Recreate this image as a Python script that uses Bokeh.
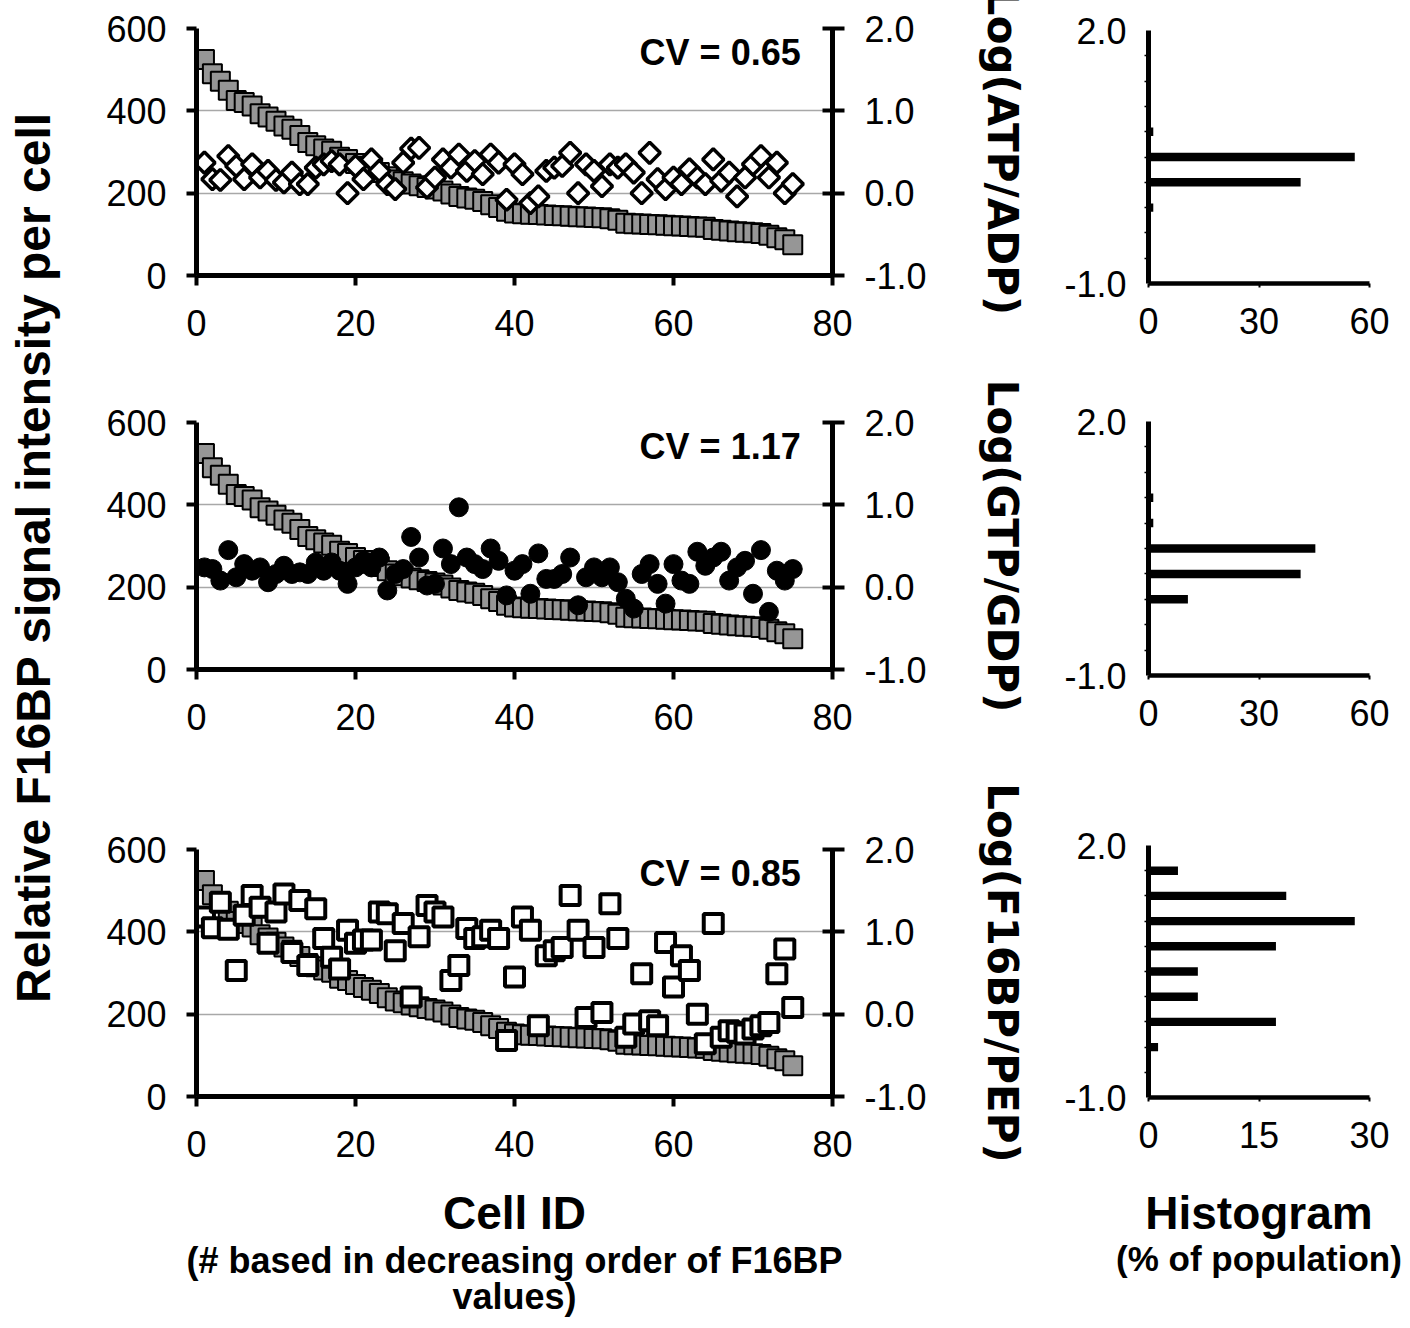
import numpy as np
from bokeh.plotting import figure
from bokeh.models import Range1d, LinearAxis, FixedTicker, PrintfTickFormatter, Label
from bokeh.layouts import row, column
from bokeh.embed import file_html
from bokeh.resources import INLINE

# ---------------- data ----------------
cell_id = list(range(1, 76))

f16bp = [525, 490, 472, 450, 425, 420, 412, 393, 385, 375,
         363, 355, 340, 323, 315, 307, 302, 287, 282, 272,
         265, 258, 250, 240, 232, 228, 222, 218, 214, 210,
         205, 198, 192, 188, 185, 180, 172, 165, 156, 152,
         150, 149, 148, 147, 146, 145, 144, 143, 142, 141,
         140, 138, 134, 127, 126, 125, 124, 123, 122, 121,
         120, 119, 118, 117, 112, 110, 108, 106, 105, 104,
         102, 98, 92, 87, 75]

log_atp_adp = [0.37, 0.17, 0.16, 0.45, 0.33, 0.17, 0.35, 0.19, 0.27, 0.16,
               0.13, 0.25, 0.11, 0.11, 0.31, 0.35, 0.39, 0.35, 0.0, 0.33,
               0.17, 0.41, 0.27, 0.11, 0.05, 0.37, 0.54, 0.55, 0.07, 0.19,
               0.41, 0.31, 0.47, 0.27, 0.39, 0.23, 0.47, 0.37, -0.08,
               0.35, 0.23, -0.12, -0.04, 0.27, 0.31, 0.33, 0.49, 0.0, 0.35,
               0.27, 0.085, 0.35, 0.31, 0.35, 0.25, 0.0, 0.49, 0.17, 0.05,
               0.19, 0.11, 0.29, 0.19, 0.11, 0.41, 0.15, 0.25, -0.04, 0.19,
               0.35, 0.45, 0.19, 0.37, 0.0, 0.11]

log_gtp_gdp = [0.24, 0.22, 0.08, 0.45, 0.12, 0.28, 0.20, 0.24, 0.06, 0.16,
               0.26, 0.16, 0.18, 0.16, 0.30, 0.20, 0.30, 0.20, 0.04, 0.24,
               0.32, 0.24, 0.36, -0.04, 0.16, 0.22, 0.61, 0.36, 0.02, 0.04,
               0.47, 0.28, 0.97, 0.36, 0.28, 0.22, 0.47, 0.32, -0.10, 0.20,
               0.28, -0.08, 0.41, 0.10, 0.10, 0.16, 0.36, -0.22, 0.12, 0.24,
               0.12, 0.24, 0.06, -0.14, -0.26, 0.16, 0.28, 0.04, -0.20, 0.28,
               0.08, 0.04, 0.43, 0.26, 0.36, 0.43, 0.08, 0.24, 0.32, -0.08,
               0.45, -0.30, 0.20, 0.08, 0.22]

log_f16bp_pep = [1.18, 1.05, 1.36, 1.03, 0.53, 1.20, 1.44, 1.30, 0.86, 1.24,
                 1.46, 0.75, 1.38, 0.59, 1.28, 0.92, 0.69, 0.55, 1.02, 0.86,
                 0.90, 0.90, 1.24, 1.22, 0.77, 1.10, 0.21, 0.94, 1.32, 1.24,
                 1.18, 0.41, 0.59, 1.04, 0.92, 0.94, 1.02, 0.92, -0.32, 0.45,
                 1.18, 1.02, -0.14, 0.71, 0.77, 0.81, 1.44, 1.02, -0.04, 0.81,
                 0.02, 1.34, 0.92, -0.28, -0.12, 0.49, -0.08, -0.14, 0.87, 0.33,
                 0.71, 0.53, 0.0, -0.36, 1.10, -0.28, -0.20, -0.22, -0.24, -0.18,
                 -0.14, -0.10, 0.49, 0.79, 0.08]

cv_labels = ["CV = 0.65", "CV = 1.17", "CV = 0.85"]
ratio_labels = ["Log(ATP/ADP)", "Log(GTP/GDP)", "Log(F16BP/PEP)"]

hist_atp_bins = [0.8, 0.5, 0.2, -0.1]
hist_atp_pct = [1.3, 56.0, 41.3, 1.3]
hist_gtp_bins = [1.1, 0.8, 0.5, 0.2, -0.1]
hist_gtp_pct = [1.3, 1.3, 45.3, 41.3, 10.7]
hist_pep_bins = [1.7, 1.4, 1.1, 0.8, 0.5, 0.2, -0.1, -0.4]
hist_pep_pct = [4.0, 18.7, 28.0, 17.3, 6.7, 6.7, 17.3, 1.3]

left_ticks = [0, 200, 400, 600]
right_ticks = [-1.0, 0.0, 1.0, 2.0]
x_ticks = [0, 20, 40, 60, 80]
hist_minor = [-0.7, -0.4, -0.1, 0.2, 0.5, 0.8, 1.1, 1.4, 1.7]

FONT = "Liberation Sans"
LOGFONT = "DejaVu Sans"
TICK_SIZE = "36px"


def style_axis(ax, line_w=5, tick_out=10, tick_in=0, standoff=20):
    ax.axis_line_width = line_w
    ax.axis_line_color = "black"
    ax.major_tick_line_width = 4
    ax.major_tick_line_color = "black"
    ax.major_tick_out = tick_out
    ax.major_tick_in = tick_in
    ax.minor_tick_out = 0
    ax.minor_tick_in = 0
    ax.major_label_text_font = FONT
    ax.major_label_text_font_size = TICK_SIZE
    ax.major_label_text_color = "black"
    ax.major_label_standoff = standoff


def text_axis(p, text, size, standoff):
    """An axis below the frame that only carries a bold title text."""
    ax = LinearAxis(ticker=FixedTicker(ticks=[]), axis_label=text)
    ax.axis_line_color = None
    ax.major_tick_line_color = None
    ax.minor_tick_line_color = None
    ax.major_tick_out = 0
    ax.major_tick_in = 0
    ax.minor_tick_out = 0
    ax.minor_tick_in = 0
    ax.major_label_text_font_size = "0px"
    ax.major_label_standoff = 0
    ax.axis_label_text_font = FONT
    ax.axis_label_text_font_size = size
    ax.axis_label_text_font_style = "bold"
    ax.axis_label_text_color = "black"
    ax.axis_label_standoff = standoff
    p.add_layout(ax, "below")


def make_scatter(values, kind, label, cv, top, bottom):
    p = figure(width=970, height=top + 247 + bottom,
               x_range=Range1d(0, 80), y_range=Range1d(0, 600),
               output_backend="svg", toolbar_location=None,
               min_border_left=126, min_border_right=208,
               min_border_top=top, min_border_bottom=bottom)
    p.extra_y_ranges = {"r": Range1d(-1, 2)}
    p.outline_line_color = None
    p.background_fill_color = "white"
    p.xgrid.visible = False
    p.ygrid.ticker = FixedTicker(ticks=[200, 400, 600])
    p.ygrid.grid_line_color = "#a8a8a8"
    p.ygrid.grid_line_width = 1.6

    p.xaxis.ticker = FixedTicker(ticks=x_ticks)
    p.yaxis.ticker = FixedTicker(ticks=left_ticks)
    style_axis(p.xaxis[0], standoff=24)
    style_axis(p.yaxis[0], standoff=20)

    ra = LinearAxis(y_range_name="r", ticker=FixedTicker(ticks=right_ticks),
                    formatter=PrintfTickFormatter(format="%.1f"),
                    axis_label=label)
    style_axis(ra, tick_out=12, tick_in=10, standoff=20)
    ra.axis_label_text_font = LOGFONT
    ra.axis_label_text_font_size = "42px"
    ra.axis_label_text_font_style = "bold"
    ra.axis_label_text_color = "black"
    ra.axis_label_standoff = 48
    p.add_layout(ra, "right")

    p.scatter(x=cell_id, y=f16bp, marker="square", size=19,
              fill_color="#969696", line_color="black", line_width=2)
    if kind == "diamond":
        p.scatter(x=cell_id, y=values, y_range_name="r", marker="square",
                  angle=np.pi / 4, size=15, fill_color="white",
                  line_color="black", line_width=3.5)
    elif kind == "circle":
        p.scatter(x=cell_id, y=values, y_range_name="r", marker="circle",
                  size=19, fill_color="black", line_color="black", line_width=1)
    else:
        p.scatter(x=cell_id, y=values, y_range_name="r", marker="square",
                  size=19, fill_color="white", line_color="black", line_width=4)

    p.add_layout(Label(x=76, y=542, text=cv, text_align="right",
                       text_baseline="middle", text_font=FONT,
                       text_font_size="36px", text_font_style="bold",
                       text_color="black"))
    return p


def make_hist(bins, pct, xmax, top, fh, bottom):
    h = figure(width=362, height=top + fh + bottom,
               x_range=Range1d(0, xmax), y_range=Range1d(-1, 2),
               output_backend="svg", toolbar_location=None,
               min_border_left=108, min_border_right=33,
               min_border_top=top, min_border_bottom=bottom)
    h.outline_line_color = None
    h.grid.visible = False
    h.hbar(y=bins, left=0, right=pct, height=0.1,
           fill_color="black", line_color=None)
    h.xaxis.ticker = FixedTicker(ticks=[0, xmax // 2, xmax])
    h.yaxis.ticker = FixedTicker(ticks=[-1.0, 2.0], minor_ticks=hist_minor)
    h.yaxis.formatter = PrintfTickFormatter(format="%.1f")
    style_axis(h.xaxis[0], line_w=4.5, tick_out=4, standoff=20)
    style_axis(h.yaxis[0], line_w=5, tick_out=0, standoff=18)
    h.yaxis.minor_tick_out = 4
    h.yaxis.minor_tick_line_width = 1.5
    h.yaxis.minor_tick_line_color = "black"
    h.xaxis.major_tick_line_width = 2
    return h


s1 = make_scatter(log_atp_adp, "diamond", ratio_labels[0], cv_labels[0], 28, 70)
s2 = make_scatter(log_gtp_gdp, "circle", ratio_labels[1], cv_labels[1], 77, 70)
s3 = make_scatter(log_f16bp_pep, "open", ratio_labels[2], cv_labels[2], 110, 230)
text_axis(s3, "Cell ID", "46px", 27)
text_axis(s3, "(# based in decreasing order of F16BP", "36px", -2)
text_axis(s3, "values)", "36px", -8)

h1 = make_hist(hist_atp_bins, hist_atp_pct, 60, 30, 253, 70)
h2 = make_hist(hist_gtp_bins, hist_gtp_pct, 60, 68, 254, 70)
h3 = make_hist(hist_pep_bins, hist_pep_pct, 30, 100, 252, 229)
text_axis(h3, "Histogram", "46px", 36)
text_axis(h3, "(% of population)", "35px", -3)

# left big label
L = figure(width=70, height=1326, x_range=Range1d(0, 70), y_range=Range1d(0, 1326),
           output_backend="svg", toolbar_location=None, min_border=0)
L.axis.visible = False
L.grid.visible = False
L.outline_line_color = None
L.add_layout(Label(x=33, y=1326 - 557, text="Relative F16BP signal intensity per cell",
                   angle=np.pi / 2, text_align="center", text_baseline="middle",
                   text_font=FONT, text_font_size="48px", text_font_style="bold",
                   text_color="black"))

layout = row(L, column(s1, s2, s3), column(h1, h2, h3))

open("out.html", "w").write(file_html(layout, INLINE))
